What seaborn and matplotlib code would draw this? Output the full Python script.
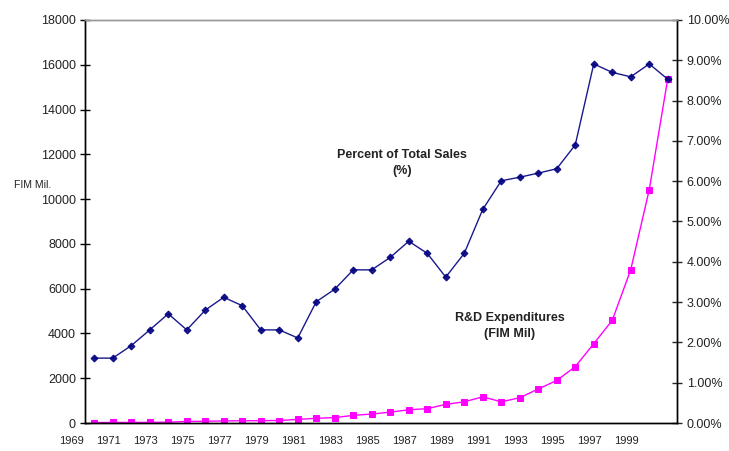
import seaborn as sns
import matplotlib.pyplot as plt
import numpy as np
import pandas as pd

# years on the category axis
years = list(range(1970, 2002))

# R&D expenditures, FIM Mil (left axis)
rd_fim = [20, 25, 25, 30, 35, 70, 75, 95, 100, 105, 110, 160, 210, 240, 340, 400,
          485, 590, 640, 834, 945, 1170, 945, 1130, 1519, 1900, 2516, 3543, 4586,
          6849, 10422, 15380]

# R&D as percent of total sales (right axis)
pct_sales = [1.61, 1.61, 1.92, 2.31, 2.71, 2.31, 2.80, 3.12, 2.91, 2.31, 2.31, 2.11,
             3.01, 3.32, 3.80, 3.80, 4.11, 4.51, 4.21, 3.62, 4.21, 5.30, 6.01, 6.10,
             6.20, 6.31, 6.90, 8.91, 8.70, 8.59, 8.91, 8.53]

label_years = list(range(1969, 2000, 2))

df = pd.DataFrame({"year": years, "rd": rd_fim, "pct": pct_sales})

sns.set_style("white")
plt.rcParams['font.family'] = ['Liberation Sans', 'DejaVu Sans']

fig = plt.figure(figsize=(7.29, 4.51), dpi=100)
ax = fig.add_axes([85 / 729, 1 - 423 / 451, (677 - 85) / 729, (423 - 20) / 451])
ax2 = ax.twinx()

# pink R&D line on the left axis
sns.lineplot(data=df, x="year", y="rd", ax=ax, color="#FF00FF", marker="s",
             markersize=5, markeredgecolor="#FF00FF", linewidth=1)
# navy percent line on the right axis
sns.lineplot(data=df, x="year", y="pct", ax=ax2, color="#000080", marker="D",
             markersize=3.5, markeredgecolor="#000080", linewidth=1, alpha=0.9)

ax.set_yticks(np.arange(0, 18001, 2000))
ax2.set_yticks(np.arange(0, 10.01, 1))
ax2.set_yticklabels([f"{v:.2f}%" for v in np.arange(0, 10.01, 1)])

# tick marks between categories
ax.set_xticks(np.arange(1969.5, 2001.6, 1))
ax.set_xticklabels([])

ax.set_xlim(1969.5, 2001.5)
ax.set_ylim(0, 18000)
ax2.set_ylim(0, 10)

# year labels every second year, slightly left of the categories (1969 hangs past the axis)
for y in label_years:
    ax.annotate(str(y), xy=(y - 0.25, 0), xycoords=("data", "axes fraction"),
                xytext=(0, -9), textcoords="offset points", ha="center", va="top",
                fontsize=8, color="#222222", annotation_clip=False)

for a in (ax, ax2):
    a.set_xlabel("")
    a.set_ylabel("")
    for s in a.spines.values():
        s.set_color("black")
        s.set_linewidth(1)
    a.spines["top"].set_color("#999999")
ax.tick_params(axis="both", which="major", direction="inout", length=7, width=1,
               colors="black", labelsize=9, labelcolor="#222222")
ax2.tick_params(axis="y", direction="inout", length=7, width=1, labelsize=9,
                labelcolor="#222222")
ax.tick_params(axis="y", left=True, pad=3)

fig.text(14 / 729, 1 - 185 / 451, "FIM Mil.", fontsize=7.5, color="#222222", va="center")
ax.text(1986.63, 11613, "Percent of Total Sales\n(%)", ha="center", va="center",
        fontsize=9, fontweight="bold", color="#222222", linespacing=1.35)
ax.text(1992.47, 4332, "R&D Expenditures\n(FIM Mil)", ha="center", va="center",
        fontsize=9, fontweight="bold", color="#222222", linespacing=1.35)

fig.savefig("out.png", dpi=100)
